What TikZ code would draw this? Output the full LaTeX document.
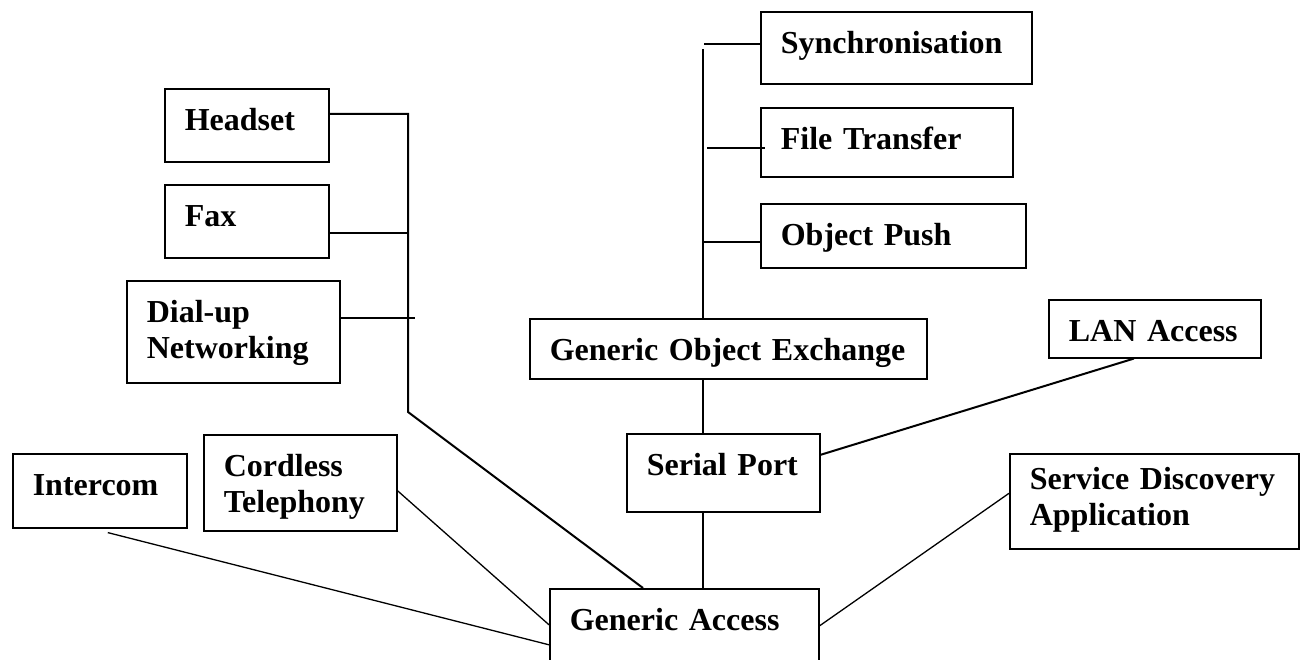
\documentclass[tikz,border=0pt]{standalone}
\usepackage{fontspec}
\setmainfont{Liberation Serif}
\usetikzlibrary{positioning,calc}

\begin{document}
\begin{tikzpicture}[
    x=1pt, y=-1pt,
    box/.style={draw, rectangle, line width=1.6pt, anchor=north west, align=left, inner xsep=20pt, inner ysep=0pt, text height=42pt, font=\fontsize{32}{36}\selectfont\bfseries},
    link/.style={line width=1.3pt},
    thicklink/.style={line width=2pt},
  ]
    \useasboundingbox (0,0) rectangle (1305,660);

    \node[box, text width=124pt, text depth=31pt] (headset) at (164,88) {Headset};
    \node[box, text width=124pt, text depth=31pt] (fax) at (164,184) {Fax};
    \node[box, text width=173pt, text depth=60pt] (dialup) at (126,280) {Dial-up\\Networking};

    \node[box, text width=231pt, text depth=30pt] (sync) at (760,11) {Synchronisation};
    \node[box, text width=212pt, text depth=27pt] (ftp) at (760,107) {File~Transfer};
    \node[box, text width=225pt, text depth=22pt] (opush) at (760,203) {Object~Push};
    \node[box, text width=357pt, text depth=18pt] (goe) at (529,318) {Generic~Object~Exchange};
    \node[box, text width=172pt, text depth=16pt] (lan) at (1048,299) {LAN~Access};
    \node[box, text width=153pt, text depth=36pt] (serial) at (626,433) {Serial~Port};
    \node[box, text width=249pt, text height=36pt, text depth=59pt] (sda) at (1009,453) {Service~Discovery\\Application};

    \node[box, text width=134pt, text depth=32pt] (intercom) at (12,453) {Intercom};
    \node[box, text width=153pt, text depth=54pt] (cordless) at (203,434) {Cordless\\Telephony};
    \node[box, text width=229pt, text depth=38pt] (access) at (549,588) {Generic~Access};

    % telephony branch
    \coordinate (bustop) at (408,114);
    \coordinate (busbend) at (408,412);
    \coordinate (faxtap) at (408,233);
    \coordinate (dialtap) at (415,318);
    \draw[thicklink] (headset.east |- bustop) -- (bustop) -- (busbend) -- ([xshift=94pt]access.north west);
    \draw[thicklink] (fax.east |- faxtap) -- (faxtap);
    \draw[link] (dialup.east |- dialtap) -- (dialtap);

    % object exchange branch
    \coordinate (obextop) at (703,49);
    \coordinate (synctap) at (704,44);
    \coordinate (ftptap) at (707,148);
    \coordinate (pushtap) at (703,242);
    \draw[link] (obextop) -- (obextop |- goe.north);
    \draw[link] (synctap) -- (synctap -| sync.west);
    \draw[thicklink] (ftptap) -- ([xshift=5pt]ftptap -| ftp.west);
    \draw[link] (pushtap) -- (pushtap -| opush.west);

    \draw[link] (goe.south -| obextop) -- (serial.north -| obextop);
    \draw[link] (serial.south -| obextop) -- (access.north -| obextop);
    \draw[thicklink] ([yshift=18pt]serial.east) -- ([xshift=-21pt]lan.south);
    \draw[link] ([yshift=3pt]access.east) -- ([yshift=8pt]sda.west);
    \draw[link] ([yshift=-8pt]cordless.east) -- ([yshift=4pt]access.west);
    \draw[link] ([xshift=8pt,yshift=-4pt]intercom.south) -- ([yshift=-16pt]access.west);
  \end{tikzpicture}
\end{document}
